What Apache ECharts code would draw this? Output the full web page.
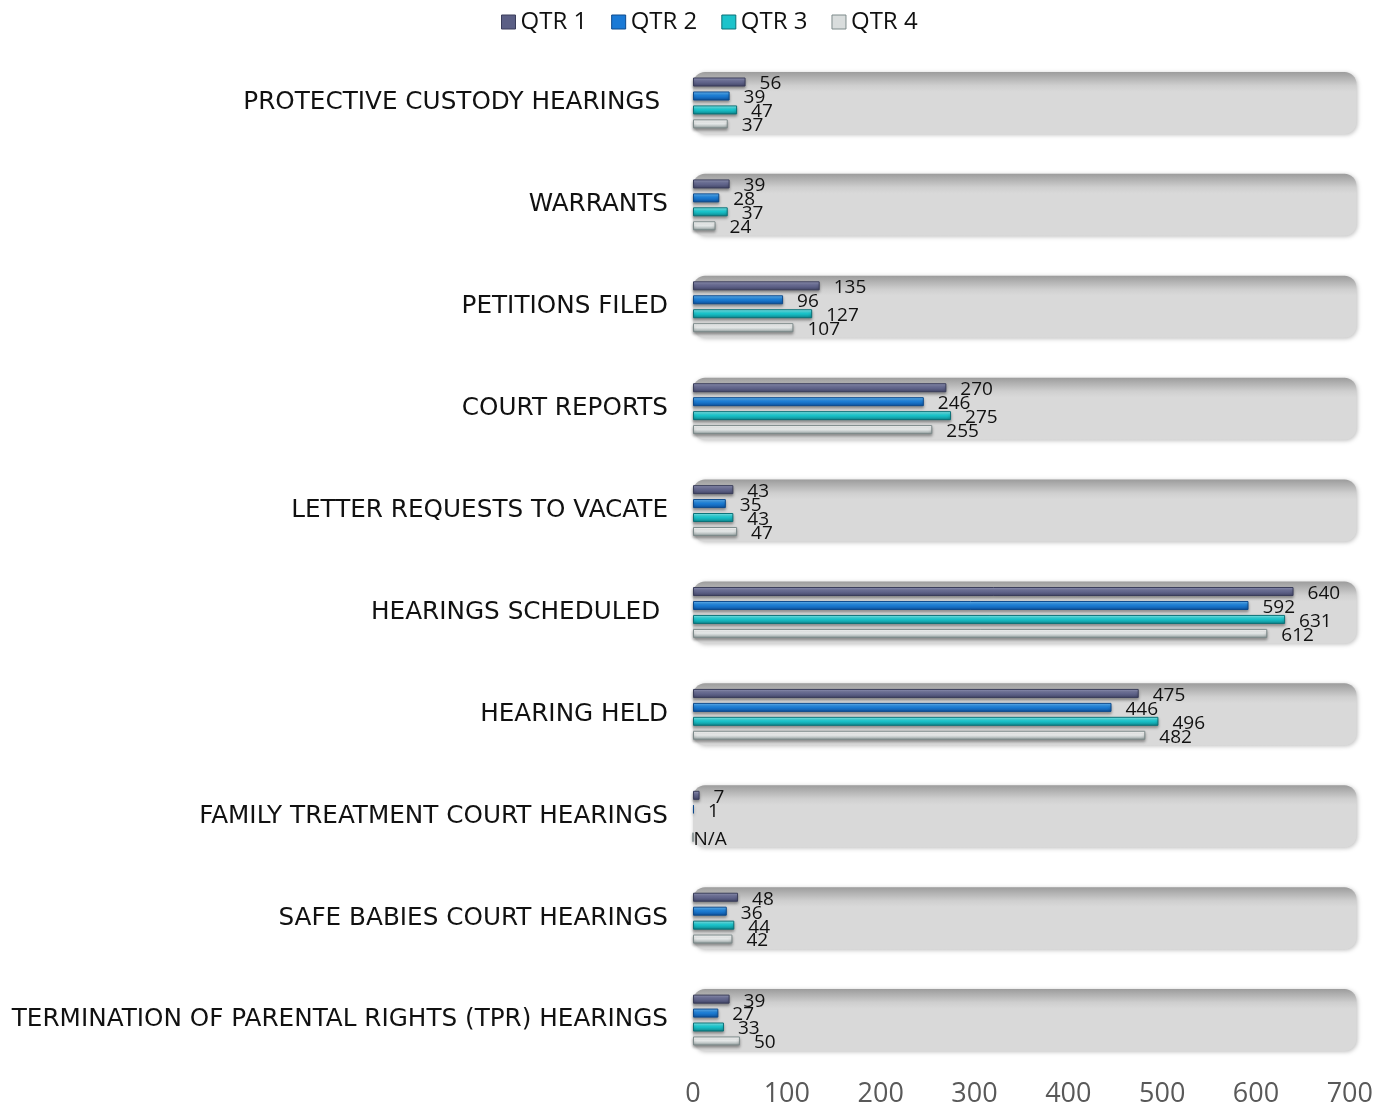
<!DOCTYPE html>
<html>
<head>
<meta charset="utf-8">
<script src="https://cdn.jsdelivr.net/npm/echarts@6/dist/echarts.min.js"></script>
<style>
  html, body { margin: 0; padding: 0; background: #fff; }
  #chart { width: 1376px; height: 1108px; }
</style>
</head>
<body>
<div id="chart"></div>
<script>
// categories, top to bottom
var categories = [
	'PROTECTIVE CUSTODY HEARINGS ',
	'WARRANTS',
	'PETITIONS FILED',
	'COURT REPORTS',
	'LETTER REQUESTS TO VACATE',
	'HEARINGS SCHEDULED ',
	'HEARING HELD',
	'FAMILY TREATMENT COURT HEARINGS',
	'SAFE BABIES COURT HEARINGS',
	'TERMINATION OF PARENTAL RIGHTS (TPR) HEARINGS'
];
var qtr1 = [56, 39, 135, 270, 43, 640, 475, 7, 48, 39];
var qtr2 = [39, 28, 96, 246, 35, 592, 446, 1, 36, 27];
var qtr3 = [47, 37, 127, 275, 43, 631, 496, null, 44, 33];
var qtr4 = [37, 24, 107, 255, 47, 612, 482, 'N/A', 42, 50];
var seriesNames = ['QTR 1', 'QTR 2', 'QTR 3', 'QTR 4'];
var xTicks = [0, 100, 200, 300, 400, 500, 600, 700];

var chart = echarts.init(document.getElementById('chart'));

// bevel-ish gradient for each quarter
function barFill(top, mid, bottom) {
	return new echarts.graphic.LinearGradient(0, 0, 0, 1, [
		{ offset: 0, color: top },
		{ offset: 0.45, color: mid },
		{ offset: 1, color: bottom }
	]);
}
var fills = [
	barFill('#9a9dc0', '#6a6e96', '#3f4263'),
	barFill('#6cc0ff', '#1f85e0', '#0b4c96'),
	barFill('#8ff5f8', '#1ccfd6', '#0c7f86'),
	barFill('#ffffff', '#f2f5f5', '#8a9696')
];
var borders = ['#3a3d5a', '#0d4a8c', '#0b7177', '#7d8a8a'];
var legendColors = ['#5b5f85', '#1a7ad6', '#1cc3cb', '#d9dddd'];

function toData(arr) {
	return arr.map(function(v) {
		if (v === null) return '-';
		if (v === 'N/A') {
			return { value: 0, label: { formatter: 'N/A', distance: 0 } };
		}
		return v;
	});
}

var quarters = [qtr1, qtr2, qtr3, qtr4];
var series = [{
	// rounded grey panel behind each category (own axis so it runs a bit past 700)
	type: 'bar',
	xAxisIndex: 1,
	yAxisIndex: 1,
	silent: true,
	clip: false,
	barWidth: 62,
	z: 1,
	data: categories.map(function() { return 1; }),
	itemStyle: {
		borderRadius: 12,
		color: new echarts.graphic.LinearGradient(0, 0, 0, 1, [
			{ offset: 0, color: '#9c9c9c' },
			{ offset: 0.22, color: '#cfcfcf' },
			{ offset: 0.32, color: '#d9d9d9' },
			{ offset: 1, color: '#d9d9d9' }
		]),
		shadowColor: 'rgba(0,0,0,0.25)',
		shadowBlur: 4,
		shadowOffsetX: 1,
		shadowOffsetY: 1
	},
	label: { show: false },
	tooltip: { show: false }
}];
quarters.forEach(function(q, i) {
	series.push({
		name: seriesNames[i],
		type: 'bar',
		z: 3,
		barWidth: 9,
		barGap: '55%',
		data: toData(q),
		itemStyle: {
			color: fills[i],
			borderColor: borders[i],
			borderWidth: 1,
			shadowColor: 'rgba(0,0,0,0.35)',
			shadowBlur: 3,
			shadowOffsetY: 2
		},
		label: {
			show: true,
			position: 'right',
			distance: 14,
			offset: [0, 2],
			color: '#111',
			fontSize: 19,
			fontFamily: 'Open Sans'
		}
	});
});

chart.setOption({
	animation: false,
	color: legendColors,
	legend: {
		top: 5,
		left: 496,
		itemWidth: 14,
		itemHeight: 14,
		itemGap: 24,
		icon: 'rect',
		data: seriesNames.map(function(n, i) {
			return { name: n, itemStyle: { color: legendColors[i], borderColor: borders[i], borderWidth: 1 } };
		}),
		textStyle: { fontSize: 24, color: '#111', fontFamily: 'Open Sans' }
	},
	grid: { left: 693, right: 26, top: 52, bottom: 31, containLabel: false },
	xAxis: [{
		type: 'value',
		min: 0,
		max: 700,
		interval: 100,
		axisLine: { show: false },
		axisTick: { show: false },
		splitLine: { show: false },
		axisLabel: {
			fontSize: 27,
			color: '#595959',
			margin: 10,
			fontFamily: 'Open Sans',
			formatter: function(v) { return xTicks.indexOf(v) >= 0 ? String(v) : ''; }
		}
	}, {
		type: 'value',
		show: false,
		min: 0,
		max: 0.99
	}],
	yAxis: [{
		type: 'category',
		inverse: true,
		data: categories,
		axisLine: { show: false },
		axisTick: { show: false },
		axisLabel: {
			fontSize: 24.7,
			color: '#111',
			margin: 25,
			fontFamily: 'DejaVu Sans',
			fontWeight: 'normal'
		}
	}, {
		type: 'category',
		inverse: true,
		show: false,
		data: categories
	}],
	series: series
});
</script>
</body>
</html>
